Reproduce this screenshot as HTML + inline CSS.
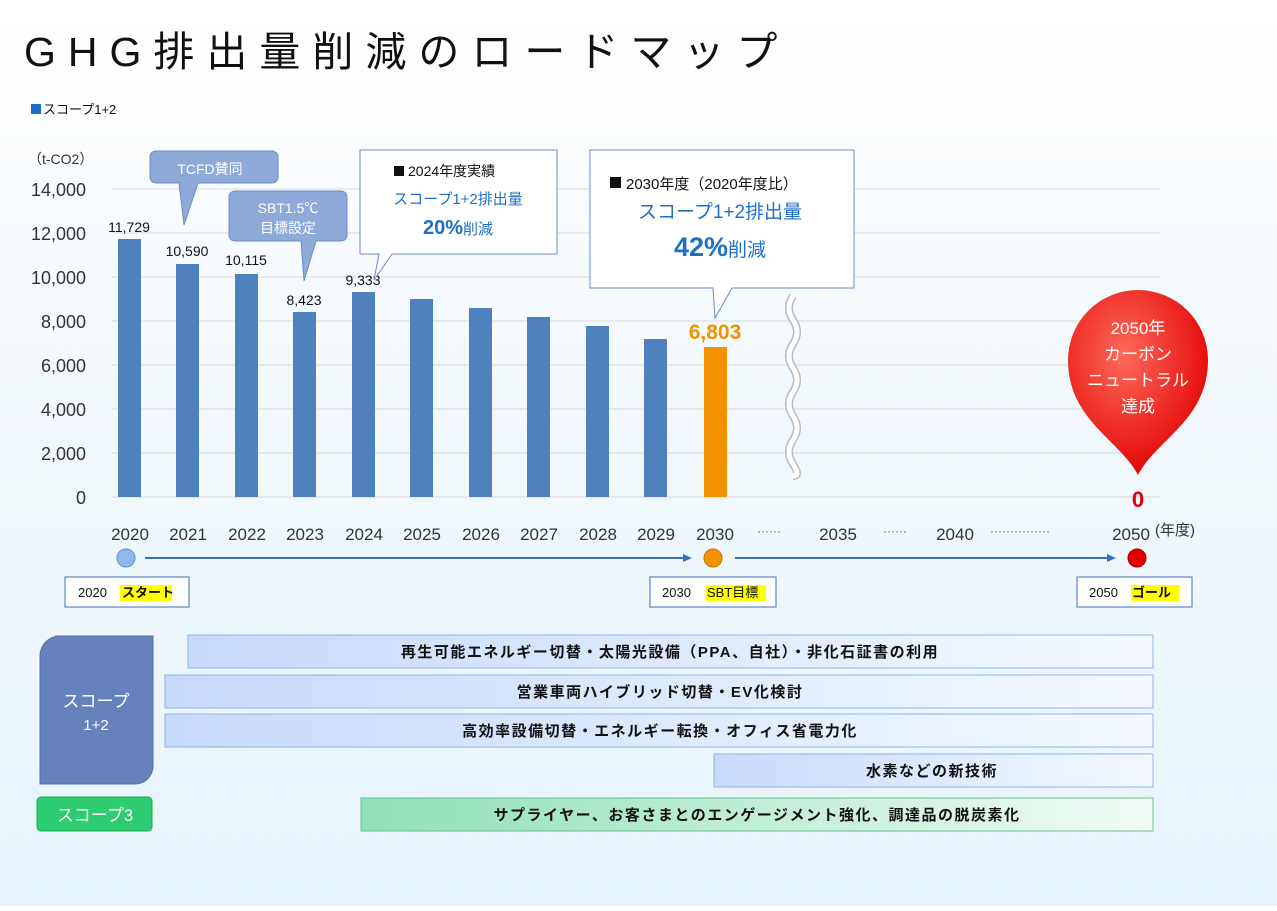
<!DOCTYPE html><html><head><meta charset="utf-8"><style>
body{margin:0;width:1277px;height:906px;overflow:hidden;background:linear-gradient(#ffffff 0%,#f3f9fd 40%,#e6f4fb 100%);font-family:"Liberation Sans","Noto Sans CJK JP",sans-serif;}
svg text{font-family:"Liberation Sans","Noto Sans CJK JP",sans-serif;}
</style></head><body>
<svg width="1277" height="906" xmlns="http://www.w3.org/2000/svg">
<defs>
<linearGradient id="bar" x1="0" x2="1"><stop offset="0" stop-color="#c6dafc"/><stop offset="1" stop-color="#f4f9ff"/></linearGradient>
<linearGradient id="gbar" x1="0" x2="1"><stop offset="0" stop-color="#8fe0b8"/><stop offset="1" stop-color="#f2fbf6"/></linearGradient>
<radialGradient id="red" cx="0.4" cy="0.35" r="0.7"><stop offset="0" stop-color="#ff6a5a"/><stop offset="1" stop-color="#e00000"/></radialGradient>
</defs>
<text x="24" y="66" font-size="41" letter-spacing="12" fill="#111">GHG排出量削減のロードマップ</text>
<rect x="31" y="104" width="10" height="10" fill="#1f6fc8"/>
<text x="43" y="114" font-size="13" fill="#111">スコープ1+2</text>
<text x="28" y="164" font-size="14" fill="#333">（t-CO2）</text>
<g stroke="#d9d9d9" stroke-width="1">
<line x1="112" y1="189" x2="1160" y2="189"/><line x1="112" y1="233" x2="1160" y2="233"/><line x1="112" y1="277" x2="1160" y2="277"/><line x1="112" y1="321" x2="1160" y2="321"/><line x1="112" y1="365" x2="1160" y2="365"/><line x1="112" y1="409" x2="1160" y2="409"/><line x1="112" y1="453" x2="1160" y2="453"/><line x1="112" y1="497" x2="1160" y2="497"/>
</g>
<g font-size="18" fill="#333" text-anchor="end">
<text x="86" y="196">14,000</text><text x="86" y="240">12,000</text><text x="86" y="284">10,000</text><text x="86" y="328">8,000</text><text x="86" y="372">6,000</text><text x="86" y="416">4,000</text><text x="86" y="460">2,000</text><text x="86" y="504">0</text>
</g>
<g fill="#4f81bd">
<rect x="118" y="239" width="23" height="258"/>
<rect x="176" y="264" width="23" height="233"/>
<rect x="235" y="274" width="23" height="223"/>
<rect x="293" y="312" width="23" height="185"/>
<rect x="352" y="292" width="23" height="205"/>
<rect x="410" y="299" width="23" height="198"/>
<rect x="469" y="308" width="23" height="189"/>
<rect x="527" y="317" width="23" height="180"/>
<rect x="586" y="326" width="23" height="171"/>
<rect x="644" y="339" width="23" height="158"/>
</g>
<rect x="704" y="347" width="23" height="150" fill="#f39200"/>
<g font-size="14" fill="#111" text-anchor="middle">
<text x="129" y="232">11,729</text><text x="187" y="256">10,590</text><text x="246" y="265">10,115</text><text x="304" y="305">8,423</text><text x="363" y="285">9,333</text>
</g>
<text x="715" y="339" font-size="21" font-weight="bold" fill="#f39200" text-anchor="middle">6,803</text>
<path d="M793 296 q-8 12 0 24 q8 12 0 24 q-8 12 0 24 q8 12 0 24 q-8 12 0 24 q8 12 0 24 q-8 12 0 24 q8 12 0 12" stroke="#bbb" stroke-width="8" fill="none"/>
<path d="M793 296 q-8 12 0 24 q8 12 0 24 q-8 12 0 24 q8 12 0 24 q-8 12 0 24 q8 12 0 24 q-8 12 0 24 q8 12 0 12" stroke="#fff" stroke-width="5" fill="none"/>
<text x="1138" y="507" font-size="22" font-weight="bold" fill="#e00000" text-anchor="middle">0</text>
<path d="M156 151 h116 a6 6 0 0 1 6 6 v20 a6 6 0 0 1 -6 6 h-74 l-14 42 l-5 -42 h-23 a6 6 0 0 1 -6 -6 v-20 a6 6 0 0 1 6 -6z" fill="#8eaad8" stroke="#6c8bc4"/>
<text x="210" y="174" font-size="14" fill="#fff" text-anchor="middle">TCFD賛同</text>
<path d="M235 191 h106 a6 6 0 0 1 6 6 v38 a6 6 0 0 1 -6 6 h-25 l-12 40 l-3 -40 h-66 a6 6 0 0 1 -6 -6 v-38 a6 6 0 0 1 6 -6z" fill="#8eaad8" stroke="#6c8bc4"/>
<text x="288" y="213" font-size="14" fill="#fff" text-anchor="middle">SBT1.5℃</text>
<text x="288" y="233" font-size="14" fill="#fff" text-anchor="middle">目標設定</text>
<path d="M360 150 h197 v104 h-165 l-18 26 l5 -26 h-19z" fill="#fff" stroke="#6c8bc4"/>
<rect x="394" y="166" width="10" height="10" fill="#111"/>
<text x="408" y="176" font-size="14" fill="#111">2024年度実績</text>
<text x="458" y="204" font-size="15" fill="#1f6fc8" text-anchor="middle">スコープ1+2排出量</text>
<text x="458" y="234" font-size="20" font-weight="bold" fill="#1f6fc8" text-anchor="middle">20%<tspan font-size="15" font-weight="normal">削減</tspan></text>
<path d="M590 150 h264 v138 h-122 l-17 30 l-2 -30 h-123z" fill="#fff" stroke="#6c8bc4"/>
<rect x="610" y="177" width="11" height="11" fill="#111"/>
<text x="626" y="189" font-size="15" fill="#111">2030年度（2020年度比）</text>
<text x="720" y="218" font-size="19" fill="#1f6fc8" text-anchor="middle">スコープ1+2排出量</text>
<text x="720" y="256" font-size="27" font-weight="bold" fill="#1f6fc8" text-anchor="middle">42%<tspan font-size="19" font-weight="normal">削減</tspan></text>
<path d="M1138 475 C1120 440 1068 420 1068 360 A70 70 0 0 1 1208 360 C1208 420 1156 440 1138 475z" fill="url(#red)"/>
<g font-size="17" fill="#fff" text-anchor="middle"><text x="1138" y="334">2050年</text><text x="1138" y="360">カーボン</text><text x="1138" y="386">ニュートラル</text><text x="1138" y="412">達成</text></g>
<g font-size="17" fill="#333" text-anchor="middle">
<text x="130" y="540">2020</text><text x="188" y="540">2021</text><text x="247" y="540">2022</text><text x="305" y="540">2023</text><text x="364" y="540">2024</text><text x="422" y="540">2025</text><text x="481" y="540">2026</text><text x="539" y="540">2027</text><text x="598" y="540">2028</text><text x="656" y="540">2029</text><text x="715" y="540">2030</text><text x="838" y="540">2035</text><text x="955" y="540">2040</text><text x="1131" y="540">2050</text>
</g>
<g font-size="12" fill="#555"><text x="757" y="535">······</text><text x="883" y="535">······</text><text x="990" y="535">···············</text></g>
<text x="1155" y="535" font-size="15" fill="#333">(年度)</text>
<line x1="145" y1="558" x2="690" y2="558" stroke="#3a6fb5" stroke-width="2"/><path d="M692 558 l-9 -4 v8z" fill="#3a6fb5"/>
<line x1="735" y1="558" x2="1113" y2="558" stroke="#3a6fb5" stroke-width="2"/><path d="M1116 558 l-9 -4 v8z" fill="#3a6fb5"/>
<circle cx="126" cy="558" r="9" fill="#8fb9ee" stroke="#5a8fd0"/>
<circle cx="713" cy="558" r="9" fill="#f39200" stroke="#c87000"/>
<circle cx="1137" cy="558" r="9" fill="#e00000" stroke="#a00"/>
<g font-size="13" fill="#111">
<rect x="65" y="577" width="124" height="30" fill="#fff" stroke="#3a6fb5"/><text x="78" y="597">2020</text><rect x="120" y="585" width="52" height="16" fill="#ff0"/><text x="122" y="597" font-weight="bold">スタート</text>
<rect x="650" y="577" width="126" height="30" fill="#fff" stroke="#3a6fb5"/><text x="662" y="597">2030</text><rect x="706" y="585" width="60" height="16" fill="#ff0"/><text x="707" y="597">SBT目標</text>
<rect x="1077" y="577" width="115" height="30" fill="#fff" stroke="#3a6fb5"/><text x="1089" y="597">2050</text><rect x="1131" y="585" width="48" height="16" fill="#ff0"/><text x="1132" y="597" font-weight="bold">ゴール</text>
</g>
<path d="M55 636 h98 v130 a18 18 0 0 1 -18 18 h-95 v-128 a20 20 0 0 1 20 -20z" fill="#6582bd" stroke="#5170ad"/>
<text x="96" y="707" font-size="17" fill="#fff" text-anchor="middle">スコープ</text>
<text x="96" y="730" font-size="15" fill="#fff" text-anchor="middle">1+2</text>
<rect x="37" y="797" width="115" height="34" rx="4" fill="#2ecc71" stroke="#1fa85a"/>
<text x="95" y="821" font-size="17" fill="#fff" text-anchor="middle">スコープ3</text>
<g stroke="#8fb3ea">
<rect x="188" y="635" width="965" height="33" fill="url(#bar)"/>
<rect x="165" y="675" width="988" height="33" fill="url(#bar)"/>
<rect x="165" y="714" width="988" height="33" fill="url(#bar)"/>
<rect x="714" y="754" width="439" height="33" fill="url(#bar)"/>
</g>
<rect x="361" y="798" width="792" height="33" fill="url(#gbar)" stroke="#6cc08f"/>
<g font-size="15" fill="#111" text-anchor="middle" letter-spacing="1.5" font-weight="bold">
<text x="670" y="657">再生可能エネルギー切替・太陽光設備（PPA、自社）・非化石証書の利用</text>
<text x="660" y="697">営業車両ハイブリッド切替・EV化検討</text>
<text x="660" y="736">高効率設備切替・エネルギー転換・オフィス省電力化</text>
<text x="932" y="776">水素などの新技術</text>
<text x="757" y="820">サプライヤー、お客さまとのエンゲージメント強化、調達品の脱炭素化</text>
</g>
</svg>
</body></html>
